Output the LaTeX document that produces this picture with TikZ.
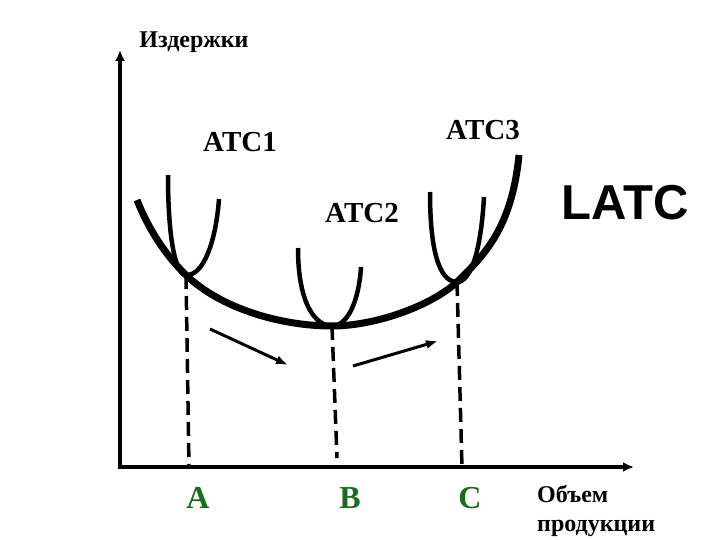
\documentclass[tikz,border=0pt]{standalone}
\usepackage{fontspec}
\setmainfont{Liberation Serif}
\newfontfamily\latcfont{Liberation Sans}
\usetikzlibrary{arrows.meta}
\definecolor{lblgreen}{RGB}{25,110,30}

\begin{document}
\begin{tikzpicture}[line cap=butt,line join=round,x=1pt,y=-1pt,
    axis/.style={line width=4pt,line join=miter},
    envelope/.style={line width=7pt},
    shortrun/.style={line width=4.5pt},
    drop/.style={line width=3.5pt,dash pattern=on 14pt off 7pt},
    move/.style={line width=3pt,-{Latex[length=12pt,width=9pt]}},
    atclabel/.style={inner sep=0pt,font=\bfseries\fontsize{29}{31}\selectfont},
    qlabel/.style={inner sep=0pt,text=lblgreen,font=\bfseries\fontsize{32}{34}\selectfont},
    axlabel/.style={inner sep=0pt,font=\bfseries\fontsize{24}{26}\selectfont}]
  \useasboundingbox (0,0) rectangle (720,540);
  % axes
  \coordinate (ytop) at (120,50);
  \coordinate (orig) at (120,467);
  \coordinate (xend) at (634,467);
  \draw [axis,{Latex[length=11pt,width=10pt]}-{Latex[length=11pt,width=10pt]}] (ytop) -- (orig) -- (xend);
  % tangent points and their feet on the axis
  \coordinate (tA) at (186,275);
  \coordinate (tB) at (332,326);
  \coordinate (tC) at (457,282);
  \coordinate (qA) at (189,467);
  \coordinate (qB) at (337,458);
  \coordinate (qC) at (462,467);
  % long-run curve
  \draw [envelope] (137,200) .. controls (148,228) and (165,255) .. (tA)
    .. controls (220,308) and (280,326) .. (tB)
    .. controls (375,326) and (431,306) .. (tC)
    .. controls (487,253) and (512,225) .. (519,155);
  % short-run curves
  \draw [shortrun] (168,175) .. controls (168,250) and (178,276) .. (tA) .. controls (204,276) and (216,240) .. (219,199);
  \draw [shortrun] (298,248) .. controls (298,305) and (316,326) .. (tB) .. controls (348,326) and (359,300) .. (361,267);
  \draw [shortrun] (430,192) .. controls (430,262) and (443,282) .. (tC) .. controls (471,282) and (481,250) .. (484,197);
  % drop lines
  \draw [drop] (tA) -- (qA);
  \draw [drop] (tB) -- (qB);
  \draw [drop] (tC) -- (qC);
  % movement arrows
  \coordinate (m1s) at (210,329);
  \coordinate (m1e) at (288,365);
  \coordinate (m2s) at (353,366);
  \coordinate (m2e) at (438,341);
  \draw [move] (m1s) -- (m1e);
  \draw [move] (m2s) -- (m2e);
  % labels
  \node [axlabel] (cost) at (194,42) {Издержки};
  \node [atclabel] (atc1) at (240,142) {ATC1};
  \node [atclabel] (atc2) at (362,213) {ATC2};
  \node [atclabel] (atc3) at (483,130) {ATC3};
  \node [inner sep=0pt,font=\latcfont\bfseries\fontsize{49}{51}\selectfont] (latc) at (625,203) {LATC};
  \node [qlabel] (A) at (198,498) {A};
  \node [qlabel] (B) at (350,498) {B};
  \node [qlabel] (C) at (470,498) {C};
  \node [axlabel,anchor=base west] (vol1) at (537,502) {Объем};
  \node [axlabel,anchor=base west] (vol2) at (537,531) {продукции};
\end{tikzpicture}
\end{document}
